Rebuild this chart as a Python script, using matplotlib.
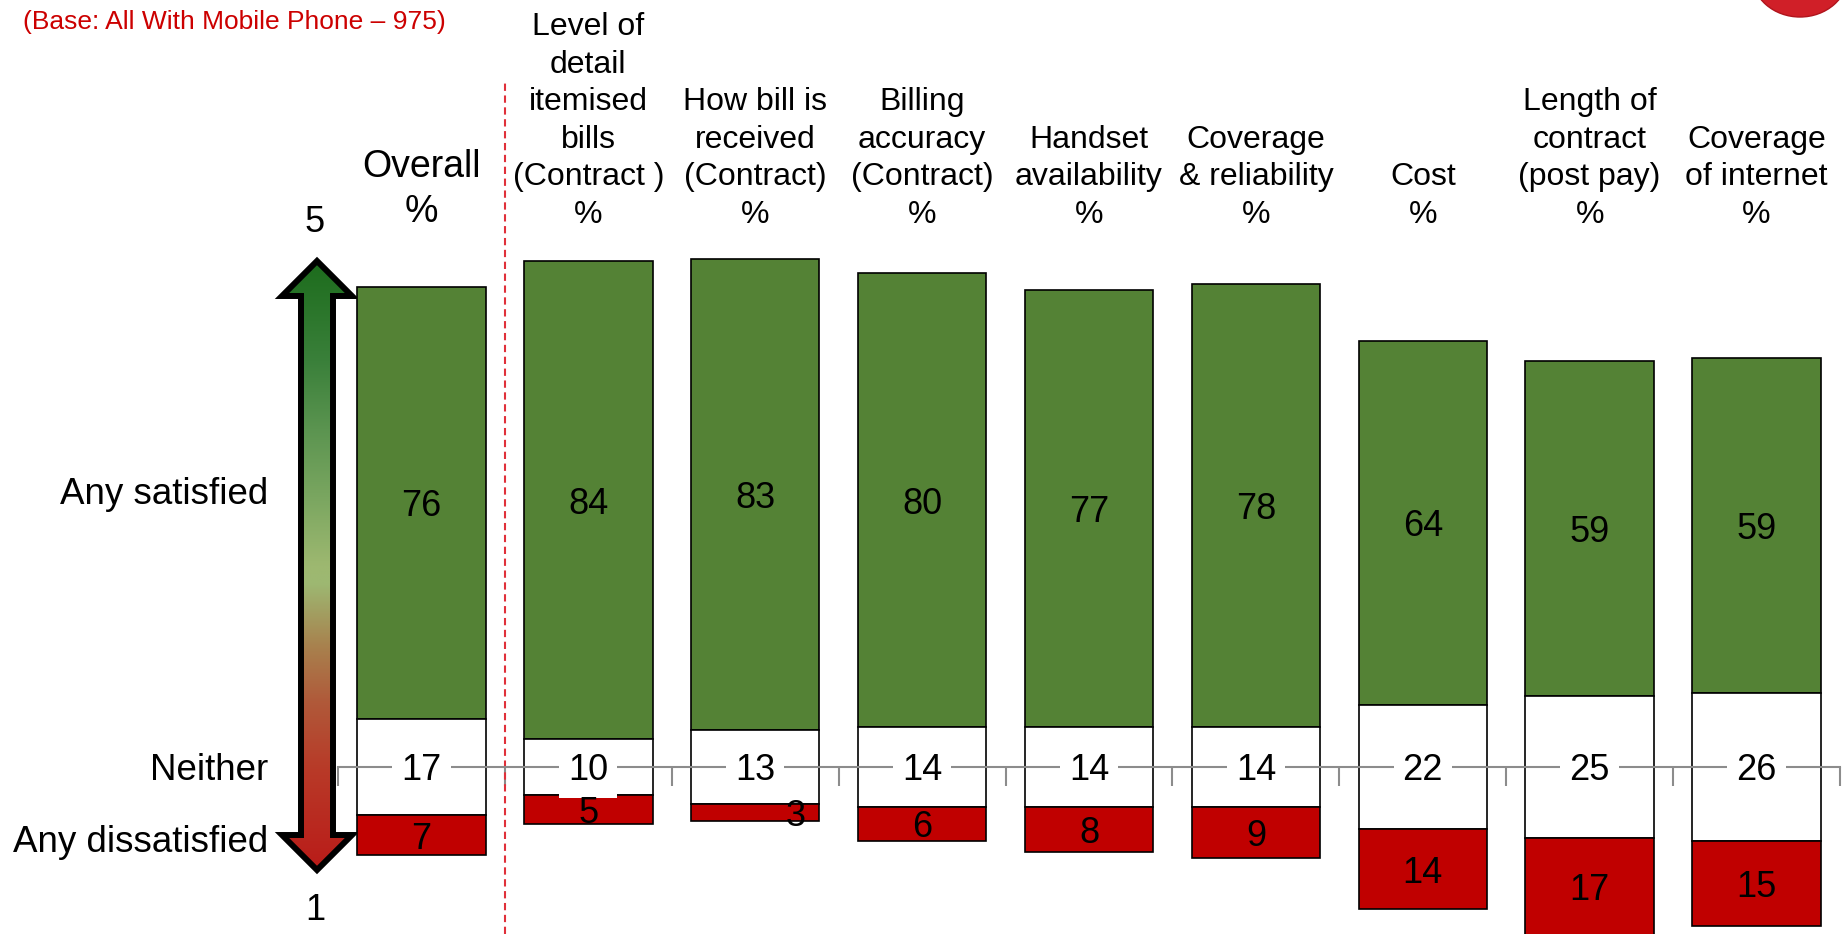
import numpy as np
import matplotlib
matplotlib.use('Agg')
import matplotlib.pyplot as plt
from matplotlib.patches import Polygon, Ellipse
from matplotlib.colors import LinearSegmentedColormap

# ---------------- data ----------------
categories = ["Overall\n%",
              "Level of\ndetail\nitemised\nbills\n(Contract )\n%",
              "How bill is\nreceived\n(Contract)\n%",
              "Billing\naccuracy\n(Contract)\n%",
              "Handset\navailability\n%",
              "Coverage\n& reliability\n%",
              "Cost\n%",
              "Length of\ncontract\n(post pay)\n%",
              "Coverage\nof internet\n%"]
satisfied = [76, 84, 83, 80, 77, 78, 64, 59, 59]
neither = [17, 10, 13, 14, 14, 14, 22, 25, 26]
dissatisfied = [7, 5, 3, 6, 8, 9, 14, 17, 15]
row_labels = ["Any satisfied", "Neither", "Any dissatisfied"]
scale_labels = ["5", "1"]
base_note = "(Base: All With Mobile Phone \u2013 975)"

# ---------------- figure ----------------
plt.rcParams['font.family'] = ['Liberation Sans', 'DejaVu Sans']
W, H = 1845, 934
fig = plt.figure(figsize=(W / 100, H / 100), dpi=100)

# overlay axes in pixel coordinates (decorations)
ax0 = fig.add_axes([0, 0, 1, 1])
ax0.axis('off')

# main chart axes
ax = fig.add_axes([338 / W, 0, 1502 / W, 1])
ax.patch.set_alpha(0)
PPU = 5.68
CY = 767
ax.set_ylim(-(H - CY) / PPU, CY / PPU)
n = len(categories)
ax.set_xlim(-0.5, n - 0.5)

x = np.arange(n)
sat = np.array(satisfied)
neu = np.array(neither)
dis = np.array(dissatisfied)
half = neu / 2.0
width = 0.77
GREEN = '#548235'
RED = '#C00000'
ax.bar(x, sat, width, bottom=half, color=GREEN, edgecolor='black', linewidth=1.2)
ax.bar(x, neu, width, bottom=-half, color='white', edgecolor='black', linewidth=1.2)
ax.bar(x, -dis, width, bottom=-half, color=RED, edgecolor='black', linewidth=1.2)

# neither axis line with boundary ticks
for s in ['top', 'left', 'right']:
    ax.spines[s].set_visible(False)
ax.spines['bottom'].set_position(('data', 0))
ax.spines['bottom'].set_color('#8C8C8C')
ax.spines['bottom'].set_linewidth(1.5)
ax.set_xticks(np.arange(-0.5, n, 1.0))
ax.tick_params(axis='x', direction='out', length=14, width=1.5, color='#8C8C8C',
               labelbottom=False)
ax.set_yticks([])

FS = 26
for i in range(n):
    ax.text(x[i], half[i] + sat[i] / 2, str(sat[i]), ha='center', va='center_baseline',
            fontsize=FS, zorder=5)
    ax.text(x[i], 0, str(neu[i]), ha='center', va='center_baseline', fontsize=FS, zorder=5,
            bbox=dict(boxstyle='square,pad=0.25', fc='white', ec='none'))
    dx = 0.24 if dis[i] < 4 else 0.0
    ax.text(x[i] + dx, -half[i] - dis[i] / 2, str(dis[i]), ha='center',
            va='center_baseline', fontsize=FS, zorder=5)

# headers
hdr_y = 1 - 230 / H
for i, lab in enumerate(categories):
    ax.text(x[i], hdr_y, lab, transform=ax.get_xaxis_transform(), ha='center',
            va='bottom', fontsize=27 if i == 0 else 23, linespacing=1.33)

# dashed separator
ax.axvline(0.5, ymin=0, ymax=1 - 82 / H, color='#E0303A', lw=1.5,
           ls=(0, (3.5, 2.2)))

# ---------------- decorations (pixel coords) ----------------
cx = 317
pts = [(cx, 261), (cx + 35, 296), (cx + 16, 296), (cx + 16, 835), (cx + 35, 835),
       (cx, 870), (cx - 35, 835), (cx - 16, 835), (cx - 16, 296), (cx - 35, 296)]
cmap = LinearSegmentedColormap.from_list('arr', [
    (0.0, '#1B6B1B'), (0.17, '#3A803A'), (0.28, '#5B9450'), (0.39, '#7AA660'),
    (0.50, '#9DB870'), (0.53, '#9DB872'), (0.63, '#A8824E'), (0.72, '#B05A3A'),
    (0.83, '#B83A28'), (1.0, '#BA1A18')])
grad = np.linspace(0, 1, 256).reshape(-1, 1)
im = ax0.imshow(grad, cmap=cmap, extent=[cx - 40, cx + 40, 875, 255], origin='upper',
                aspect='auto', interpolation='bilinear')
clip = Polygon(pts, closed=True, fc='none', ec='none', transform=ax0.transData)
ax0.add_patch(clip)
im.set_clip_path(clip)
ax0.add_patch(Polygon(pts, closed=True, fill=False, ec='black', lw=4.3,
                      joinstyle='miter'))

ax0.add_patch(Ellipse((1800, -25), 96, 84, fc='#D01F28', ec='#B0141C', lw=1))

ax0.set_xlim(0, W)
ax0.set_ylim(H, 0)

for lab, yy in zip(row_labels, [491, 767, 838]):
    ax0.text(268, yy, lab, ha='right', va='center_baseline', fontsize=26.5)
for lab, yy in zip(scale_labels, [218, 906]):
    ax0.text(315, yy, lab, ha='center', va='center_baseline', fontsize=26)

ax0.text(23, 19, base_note, ha='left', va='center_baseline', fontsize=19, color='#CC0000')

fig.savefig('out.png', dpi=100)
